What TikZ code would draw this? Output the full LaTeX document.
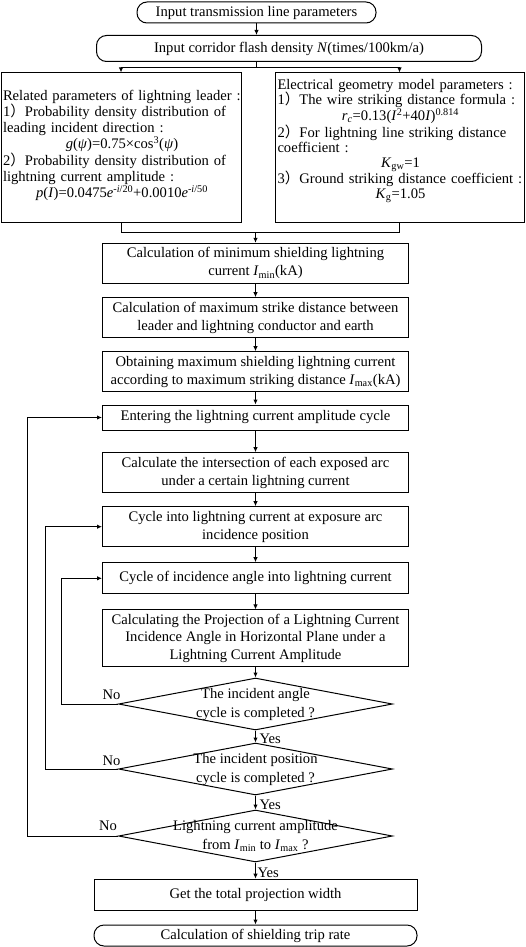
\documentclass[tikz,border=0pt]{standalone}
\usepackage{fontspec}
\setmainfont{Liberation Serif}
\newfontfamily\cjk{Noto Sans CJK SC}
\usetikzlibrary{arrows.meta,shapes.geometric}
\newcommand{\fw}{\smash{\cjk ）}}
\newcommand{\cl}[1]{\makebox[\linewidth]{#1}}
\begin{document}
\begin{tikzpicture}[x=1pt,y=-1pt, line width=1pt,
  font=\fontsize{14.6}{18}\selectfont,
  box/.style={draw, inner sep=0pt, minimum width=306pt, align=center},
  rbox/.style={box, rounded corners=10pt},
  dia/.style={draw, diamond, inner sep=0pt, minimum width=274pt, minimum height=52pt},
  arr/.style={-{Latex[length=5pt,width=4.5pt]}},
  lbl/.style={inner sep=0pt}]
\useasboundingbox (0,0) rectangle (526,947);

% top
\node[rbox, minimum width=239pt, minimum height=21pt] (in1) at (256.5,12.5) {Input transmission line parameters};
\node[rbox, minimum width=385pt, minimum height=26pt] (in2) at (289,48.5) {Input corridor flash density \textit{N}(times/100km/a)};

% parameter boxes
\node[box, minimum width=240pt, minimum height=149pt] (rel) at (121,147.5) {};
\node[box, minimum width=249pt, minimum height=149pt] (ele) at (399.5,147.5) {};

\node[lbl, anchor=north west, text width=238pt, align=left, font=\fontsize{14.6}{16.2}\selectfont] (relt) at (2.5,89.5)
{Related parameters of lightning leader :\\
1\fw Probability density distribution of\\
leading incident direction :\\
\cl{\textit{g}(\textit{ψ})=0.75×cos\textsuperscript{3}(\textit{ψ})}\\
2\fw Probability density distribution of\\
lightning current amplitude :\\
\cl{\textit{p}(\textit{I})=0.0475\textit{e}\textsuperscript{-\textit{i}/20}+0.0010\textit{e}\textsuperscript{-\textit{i}/50}}};

\node[lbl, anchor=north west, text width=246pt, align=left, font=\fontsize{14.6}{15}\selectfont] (elet) at (277,79)
{Electrical geometry model parameters :\\
1\fw The wire striking distance formula :\\
\cl{\textit{r}\textsubscript{\textit{c}}=0.13(\textit{I}\textsuperscript{2}+40\textit{I})\textsuperscript{0.814}}\\[1.5pt]
2\fw For lightning line striking distance\\
coefficient :\\
\cl{\textit{K}\textsubscript{gw}=1}\\[1.5pt]
3\fw Ground striking distance coefficient :\\
\cl{\textit{K}\textsubscript{g}=1.05}};

% main column
\node[box, minimum height=40pt] (bmin) at (255.5,263.3) {Calculation of minimum shielding lightning\\current \textit{I}\textsubscript{min}(kA)};
\node[box, minimum height=40pt] (bmaxd) at (255.5,317.7) {Calculation of maximum strike distance between\\leader and lightning conductor and earth};
\node[box, minimum height=40pt] (bobt) at (255.5,371.7) {Obtaining maximum shielding lightning current\\according to maximum striking distance \textit{I}\textsubscript{max}(kA)};
\node[box, minimum height=25pt] (bent) at (255.5,417.5) {Entering the lightning current amplitude cycle};
\node[box, minimum height=39.6pt] (bint) at (255.5,472.5) {Calculate the intersection of each exposed arc\\under a certain lightning current};
\node[box, minimum height=40pt] (bcyc) at (255.5,526.7) {Cycle into lightning current at exposure arc\\incidence position};
\node[box, minimum height=31.3pt] (bang) at (255.5,578.3) {Cycle of incidence angle into lightning current};
\node[box, minimum height=56.7pt, font=\fontsize{14.6}{17.5}\selectfont] (bproj) at (255.5,638.3) {Calculating the Projection of a Lightning Current\\Incidence Angle in Horizontal Plane under a\\Lightning Current Amplitude};

\node[dia] (d1) at (255.5,704) {};
\node[dia] (d2) at (255.5,769) {};
\node[dia] (d3) at (255.5,836) {};
\node[lbl, align=center, font=\fontsize{14.6}{19}\selectfont] (d1t) at (255.5,704.5) {The incident angle\\cycle is completed ?};
\node[lbl, align=center, font=\fontsize{14.6}{19}\selectfont] (d2t) at (255.5,769.5) {The incident position\\cycle is completed ?};
\node[lbl, align=center, font=\fontsize{14.6}{19}\selectfont] (d3t) at (255.5,836) {Lightning current amplitude\\from \textit{I}\textsubscript{min} to \textit{I}\textsubscript{max} ?};

\node[box, minimum width=323pt, minimum height=31.7pt] (btot) at (255.5,895) {Get the total projection width};
\node[rbox, minimum width=323pt, minimum height=21pt] (bend) at (255.5,935.5) {Calculation of shielding trip rate};

% labels
\node[lbl] (no1) at (111.5,695) {No};
\node[lbl] (no2) at (111.5,761) {No};
\node[lbl] (no3) at (108,826) {No};
\node[lbl, anchor=west] (yes1) at (259,738.5) {Yes};
\node[lbl, anchor=west] (yes2) at (259,805) {Yes};
\node[lbl, anchor=west] (yes3) at (257,872.7) {Yes};

% connectors
\coordinate (sp) at (256.5,67.5);
\coordinate (mg) at (255.5,232);
\coordinate (c1) at (61.7,704);
\coordinate (c2) at (45.7,769);
\coordinate (c3) at (27.3,836);

\draw[arr] (in1.south) -- (in1.south |- in2.north);
\draw (in1.south |- in2.south) -- (sp);
\draw[arr] (sp) -| (rel.north);
\draw[arr] (sp) -| (ele.north);
\draw (rel.south) -- (rel.south |- mg) -- (ele.south |- mg) -- (ele.south);
\draw[arr] (mg) -- (bmin.north);
\draw[arr] (bmin.south) -- (bmaxd.north);
\draw[arr] (bmaxd.south) -- (bobt.north);
\draw[arr] (bobt.south) -- (bent.north);
\draw[arr] (bent.south) -- (bint.north);
\draw[arr] (bint.south) -- (bcyc.north);
\draw[arr] (bcyc.south) -- (bang.north);
\draw[arr] (bang.south) -- (bproj.north);
\draw[arr] (bproj.south) -- (d1.north);
\draw[arr] (d1.south) -- (d2.north);
\draw[arr] (d2.south) -- (d3.north);
\draw[arr] (d3.south) -- (btot.north);
\draw[arr] (btot.south) -- (bend.north);
\draw[arr] (d1.west) -- (c1) |- (bang.west);
\draw[arr] (d2.west) -- (c2) |- (bcyc.west);
\draw[arr] (d3.west) -- (c3) |- (bent.west);
\end{tikzpicture}
\end{document}
